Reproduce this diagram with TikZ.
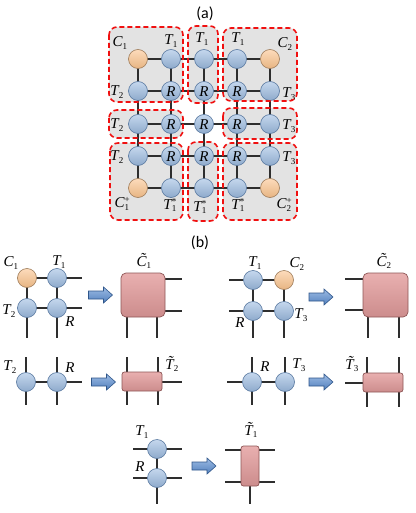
\documentclass[tikz,border=0pt]{standalone}
\usepackage{fontspec}
\newfontfamily\labfont{Carlito}
\newfontfamily\tms{Liberation Serif}
\newcommand\subsz{\fontsize{9}{9}\selectfont}
% letter with subscript and optional superscript
\newcommand\tn[3]{{\itshape #1}\makebox[0.45em][l]{\rlap{\raisebox{-0.35ex}{\subsz #2}}\raisebox{0.75ex}{\subsz #3}}}
\definecolor{lineC}{HTML}{2E2E2E}
\definecolor{blueC}{HTML}{9EBDE2}
\definecolor{blueD}{HTML}{56769E}
\definecolor{orC}{HTML}{FBC48E}
\definecolor{orD}{HTML}{9C7A58}
\definecolor{grayC}{HTML}{E3E3E3}
\definecolor{redC}{HTML}{F01010}
\definecolor{pinkC}{HTML}{E39C9C}
\definecolor{pinkD}{HTML}{8E5656}
\definecolor{arrC}{HTML}{5B8ED2}
\definecolor{arrD}{HTML}{2F568A}
\tikzset{
  ln/.style={draw=lineC, line width=1.1pt},
  bc/.style={circle, inner sep=0pt, minimum size=19pt, top color=blueC!60!white, bottom color=blueC!90!black, draw=blueD, line width=0.6pt},
  oc/.style={bc, top color=orC!60!white, bottom color=orC!92!black, draw=orD},
  lbl/.style={inner sep=0pt, font=\tms\fontsize{15}{17}\selectfont},
  captxt/.style={inner sep=0pt, font=\labfont\fontsize{16}{18}\selectfont},
  gfill/.style={fill=grayC, rounded corners=8pt},
  dbox/.style={draw=redC, line width=1.6pt, dash pattern=on 5pt off 3pt, rounded corners=8pt},
  pbox/.style={top color=pinkC!80!white, bottom color=pinkC!90!black, draw=pinkD, line width=0.7pt, inner sep=0pt},
  barr/.style={top color=arrC!60!white, bottom color=arrC!90!black, draw=arrD, line width=0.6pt, line join=miter}
}
% block arrow centred at (#1,#2)
\newcommand\blockarrow[2]{%
  \draw[barr] (#1-12,#2-4) -- (#1+3,#2-4) -- (#1+3,#2-8) -- (#1+12,#2) -- (#1+3,#2+8) -- (#1+3,#2+4) -- (#1-12,#2+4) -- cycle;}
\begin{document}
\begin{tikzpicture}[x=1pt, y=-1pt]
\useasboundingbox (0,0) rectangle (415,513);
% ---------- (a) ----------
\node[captxt] (capa) at (205,14) {(a)};
% gray backgrounds
\foreach \xa/\ya/\xb/\yb in {109/27/183/102, 188/26/218/103, 223/28/297/101,
   109/110/183/138, 223/108/297/139,
   110/143/183/220, 188/142/218/221, 223/143/297/220}
  \fill[gfill] (\xa,\ya) rectangle (\xb,\yb);
% grid nodes
\foreach \i/\x in {1/138,2/171,3/204,4/237,5/270}
  \foreach \j/\y in {1/59,2/91,3/124,4/156,5/188}
    \coordinate (p\i\j) at (\x,\y);
% connectors
\foreach \j in {1,...,5} {
  \draw[ln] (p1\j) -- (p2\j) -- (p3\j) -- (p4\j) -- (p5\j);
  \draw[ln] (p\j1) -- (p\j2) -- (p\j3) -- (p\j4) -- (p\j5);
}
\foreach \i in {1,...,5}
  \foreach \j in {1,...,5} {
    \pgfmathtruncatemacro{\corner}{((\i==1)||(\i==5))&&((\j==1)||(\j==5))}
    \ifnum\corner=1
      \node[oc] (g\i\j) at (p\i\j) {};
    \else
      \node[bc] (g\i\j) at (p\i\j) {};
    \fi
  }
% R labels in the inner circles
\foreach \i in {2,3,4}
  \foreach \j in {2,3,4}
    \node[lbl] at ([yshift=-0.5pt]g\i\j) {\itshape R};
% labels around
\node[lbl] (la1) at (121,43) {\tn{C}{1}{}};
\node[lbl] (la2) at (172,41) {\tn{T}{1}{}};
\node[lbl] (la3) at (203,39) {\tn{T}{1}{}};
\node[lbl] (la4) at (239,39) {\tn{T}{1}{}};
\node[lbl] (la5) at (286,44) {\tn{C}{2}{}};
\node[lbl] (la6) at (118,92) {\tn{T}{2}{}};
\node[lbl] (la7) at (118,125) {\tn{T}{2}{}};
\node[lbl] (la8) at (118,157) {\tn{T}{2}{}};
\node[lbl] (la9) at (290,94) {\tn{T}{3}{}};
\node[lbl] (la10) at (290,126) {\tn{T}{3}{}};
\node[lbl] (la11) at (290,158) {\tn{T}{3}{}};
\node[lbl] (la12) at (123,204) {\tn{C}{1}{+}};
\node[lbl] (la13) at (171,205) {\tn{T}{1}{*}};
\node[lbl] (la14) at (201,207) {\tn{T}{1}{*}};
\node[lbl] (la15) at (239,205) {\tn{T}{1}{*}};
\node[lbl] (la16) at (285,205) {\tn{C}{2}{+}};
% dashed borders
\foreach \xa/\ya/\xb/\yb in {109/27/183/102, 188/26/218/103, 223/28/297/101,
   109/110/183/138, 223/108/297/139,
   110/143/183/220, 188/142/218/221, 223/143/297/220}
  \draw[dbox] (\xa,\ya) rectangle (\xb,\yb);
% ---------- (b) ----------
\node[captxt] (capb) at (200,243) {(b)};
% block 1 : C1 corner
\coordinate (e1) at (82,278); \coordinate (e2) at (82,308);
\coordinate (e3) at (27,338); \coordinate (e4) at (57,338);
\coordinate (q1) at (27,278); \coordinate (q2) at (57,278);
\coordinate (q3) at (27,308); \coordinate (q4) at (57,308);
\draw[ln] (q1) -- (q2) -- (e1);
\draw[ln] (q3) -- (q4) -- (e2);
\draw[ln] (q1) -- (q3) -- (e3);
\draw[ln] (q2) -- (q4) -- (e4);
\node[oc] (c1) at (q1) {};
\node[bc] (t1a) at (q2) {};
\node[bc] (t2a) at (q3) {};
\node[bc] (ra) at (q4) {};
\node[lbl] at (12,263) {\tn{C}{1}{}};
\node[lbl] at (60,262) {\tn{T}{1}{}};
\node[lbl] at (10,311) {\tn{T}{2}{}};
\node[lbl] at (70,322) {\itshape R};
\blockarrow{100.5}{295}
\coordinate (f1) at (182,279); \coordinate (f2) at (182,311);
\coordinate (f3) at (127,338); \coordinate (f4) at (157,338);
\coordinate (f1b) at (160,279); \coordinate (f2b) at (160,311);
\coordinate (f3b) at (127,300); \coordinate (f4b) at (157,300);
\draw[ln] (f1b) -- (f1); \draw[ln] (f2b) -- (f2);
\draw[ln] (f3b) -- (f3); \draw[ln] (f4b) -- (f4);
\node[pbox, rounded corners=5pt, minimum width=44pt, minimum height=44pt] (bc1) at (143,295) {};
\node[lbl] at (145,261) {\tn{\~{C}}{1}{}};
% block 2 : C2 corner
\coordinate (h1) at (229,280); \coordinate (h2) at (229,311);
\coordinate (h3) at (253,338); \coordinate (h4) at (284,338);
\coordinate (s1) at (253,280); \coordinate (s2) at (284,280);
\coordinate (s3) at (253,311); \coordinate (s4) at (284,311);
\draw[ln] (h1) -- (s1) -- (s2);
\draw[ln] (h2) -- (s3) -- (s4);
\draw[ln] (s1) -- (s3) -- (h3);
\draw[ln] (s2) -- (s4) -- (h4);
\node[bc] (t1b) at (s1) {};
\node[oc] (c2) at (s2) {};
\node[bc] (rb) at (s3) {};
\node[bc] (t3b) at (s4) {};
\node[lbl] at (256,263) {\tn{T}{1}{}};
\node[lbl] at (298,264) {\tn{C}{2}{}};
\node[lbl] at (302,315) {\tn{T}{3}{}};
\node[lbl] at (240,323) {\itshape R};
\blockarrow{321}{297}
\coordinate (k1) at (345,279); \coordinate (k2) at (345,310);
\coordinate (k3) at (368,338); \coordinate (k4) at (399,338);
\coordinate (k1b) at (370,279); \coordinate (k2b) at (370,310);
\coordinate (k3b) at (368,300); \coordinate (k4b) at (399,300);
\draw[ln] (k1) -- (k1b); \draw[ln] (k2) -- (k2b);
\draw[ln] (k3b) -- (k3); \draw[ln] (k4b) -- (k4);
\node[pbox, rounded corners=5pt, minimum width=45pt, minimum height=44pt] (bc2) at (385.5,295) {};
\node[lbl] at (385,261) {\tn{\~{C}}{2}{}};
% block 3 : T2 edge
\coordinate (m1) at (26,357); \coordinate (m2) at (57,357);
\coordinate (m3) at (26,405); \coordinate (m4) at (57,405);
\coordinate (m5) at (82,382);
\coordinate (u1) at (26,382); \coordinate (u2) at (57,382);
\draw[ln] (m1) -- (u1) -- (m3);
\draw[ln] (m2) -- (u2) -- (m4);
\draw[ln] (u1) -- (u2) -- (m5);
\node[bc] (t2c) at (u1) {};
\node[bc] (rc) at (u2) {};
\node[lbl] at (11,367) {\tn{T}{2}{}};
\node[lbl] at (70,368) {\itshape R};
\blockarrow{103.5}{382}
\coordinate (n1) at (127,357); \coordinate (n2) at (158,357);
\coordinate (n3) at (127,405); \coordinate (n4) at (158,405);
\coordinate (n5) at (182,382); \coordinate (n6) at (150,382);
\draw[ln] (n1) -- (n3); \draw[ln] (n2) -- (n4); \draw[ln] (n6) -- (n5);
\node[pbox, rounded corners=2.5pt, minimum width=40pt, minimum height=19pt] (bt2) at (142,381.5) {};
\node[lbl] at (173,364) {\tn{\~{T}}{2}{}};
% block 4 : T3 edge
\coordinate (v1) at (252,357); \coordinate (v2) at (285,357);
\coordinate (v3) at (252,405); \coordinate (v4) at (285,405);
\coordinate (v5) at (227,382);
\coordinate (w1) at (252,382); \coordinate (w2) at (285,382);
\draw[ln] (v1) -- (w1) -- (v3);
\draw[ln] (v2) -- (w2) -- (v4);
\draw[ln] (v5) -- (w1) -- (w2);
\node[bc] (rd) at (w1) {};
\node[bc] (t3d) at (w2) {};
\node[lbl] at (265,367) {\itshape R};
\node[lbl] at (300,365) {\tn{T}{3}{}};
\blockarrow{321}{382}
\coordinate (z1) at (367,357); \coordinate (z2) at (399,357);
\coordinate (z3) at (367,407); \coordinate (z4) at (399,407);
\coordinate (z5) at (345,383); \coordinate (z6) at (375,383);
\draw[ln] (z1) -- (z3); \draw[ln] (z2) -- (z4); \draw[ln] (z5) -- (z6);
\node[pbox, rounded corners=2.5pt, minimum width=40pt, minimum height=19pt] (bt3) at (383,382.5) {};
\node[lbl] at (353,364) {\tn{\~{T}}{3}{}};
% block 5 : T1 edge
\coordinate (r1) at (133,449); \coordinate (r2) at (182,449);
\coordinate (r3) at (133,478); \coordinate (r4) at (182,478);
\coordinate (r5) at (157,504);
\coordinate (y1) at (157,449); \coordinate (y2) at (157,478);
\draw[ln] (r1) -- (r2); \draw[ln] (r3) -- (r4);
\draw[ln] (y1) -- (y2) -- (r5);
\node[bc] (t1e) at (y1) {};
\node[bc] (re) at (y2) {};
\node[lbl] at (143,432) {\tn{T}{1}{}};
\node[lbl] at (140,467) {\itshape R};
\blockarrow{204}{466}
\coordinate (x1) at (225,450); \coordinate (x2) at (275,450);
\coordinate (x3) at (225,482); \coordinate (x4) at (275,482);
\coordinate (x5) at (250,504); \coordinate (x6) at (250,470);
\draw[ln] (x1) -- (x2); \draw[ln] (x3) -- (x4); \draw[ln] (x6) -- (x5);
\node[pbox, rounded corners=2.5pt, minimum width=18pt, minimum height=40pt] (bt1) at (250,466) {};
\node[lbl] at (252,430) {\tn{\~{T}}{1}{}};
\end{tikzpicture}
\end{document}
